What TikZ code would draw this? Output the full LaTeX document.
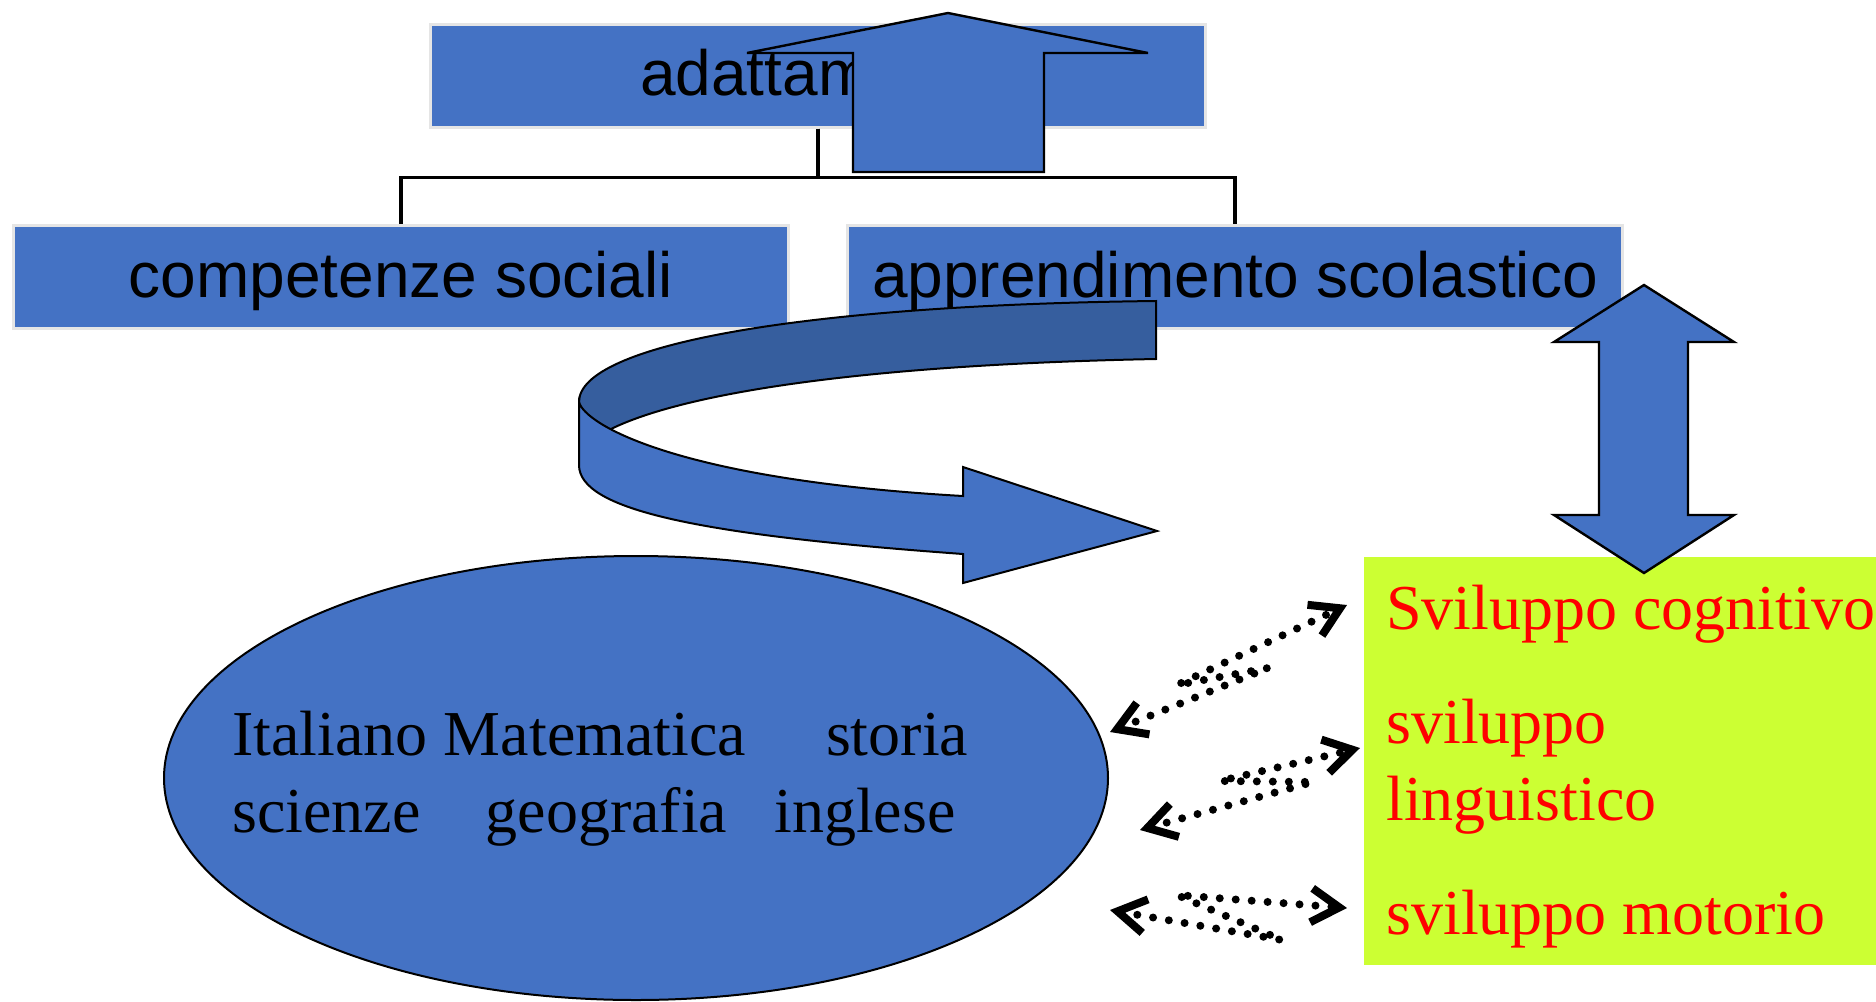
\documentclass[tikz,border=0pt]{standalone}
\usepackage{fontspec}
\setmainfont{Liberation Serif}
\newfontfamily\boxfont{Liberation Sans}
\usepackage{tikz-qtree}
\usetikzlibrary{shapes.geometric,arrows.meta}

\definecolor{slideblue}{RGB}{68,114,196}
\definecolor{slidedark}{RGB}{54,94,158}
\definecolor{slidegreen}{RGB}{204,255,51}

\tikzset{
  areabox/.style={fill=slideblue, draw=black!10, line width=1.5pt, anchor=north,
    minimum width=387.5pt, minimum height=51.5pt, inner sep=0pt,
    text height=24pt, text depth=4pt,
    font=\boxfont\fontsize{32}{38}\selectfont},
  blockarrow/.style={fill=slideblue, draw=black, line width=1.2pt, line join=miter},
  listtext/.style={align=left, inner sep=0pt, font=\fontsize{32}{38.5}\selectfont},
  dotlink/.style={line width=4pt, line cap=round, dash pattern=on 0pt off 8pt,
    >={Straight Barb[length=14pt,width=17pt,line width=4pt]}, <->},
}

\begin{document}
\begin{tikzpicture}[x=0.5pt, y=0.5pt]
\useasboundingbox (0,0) rectangle (1876,-1002);

% the three areas
\begin{scope}[xshift=409pt, yshift=-11.35pt,
  level distance=100.65pt, sibling distance=28pt,
  every tree node/.style={anchor=north},
  edge from parent/.style={draw, line width=1.6pt,
    edge from parent path={(\tikzparentnode.south) -- +(0,-24.5pt) -| (\tikzchildnode.north)}}]
\Tree [.\node[areabox] (adatt) {adattamento};
  \node[areabox] (comp) {competenze sociali};
  \node[areabox] (appr) {apprendimento scolastico};
]
\end{scope}

% arrow up to adattamento
\draw[blockarrow] (948,-13) -- (1148,-53) -- (1044,-53) -- (1044,-172)
  -- (853,-172) -- (853,-53) -- (747,-53) -- cycle;

% turning arrow, back side then front side
\draw[fill=slidedark, line width=1pt] (1156,-301) -- (1156,-359)
  .. controls (850,-365) and (680,-395) .. (611,-429)
  -- (579,-440) -- (579,-402)
  .. controls (579,-345) and (800,-305) .. (1156,-301) -- cycle;
\draw[fill=slideblue, line width=1pt] (579,-402)
  .. controls (585,-425) and (680,-480) .. (963,-496)
  -- (963,-467) -- (1157,-531) -- (963,-583) -- (963,-554)
  .. controls (700,-535) and (579,-510) .. (579,-465) -- cycle;

% subjects
\node[ellipse, fill=slideblue, draw=black, line width=1pt, inner sep=0pt,
  minimum width=472pt, minimum height=222pt] (subj) at (636,-778) {};
\node[listtext, anchor=north west] (subjlist) at (232,-711)
  {Italiano Matematica\hspace{32pt} storia\\
   scienze\hspace{24.5pt} geografia\hspace{15.5pt} inglese};

% development
\node[fill=slidegreen, inner sep=0pt, anchor=north west,
  minimum width=256pt, minimum height=204pt] (dev) at (1364,-557) {};
\node[listtext, text=red, anchor=north west] (devlist) at (1386,-585)
  {Sviluppo cognitivo\\[18.5pt]
   sviluppo\\
   linguistico\\[18.5pt]
   sviluppo motorio};

% double arrow
\draw[blockarrow] (1644,-285) -- (1734,-342) -- (1688,-342) -- (1688,-515)
  -- (1734,-515) -- (1644,-573) -- (1554,-515) -- (1599,-515)
  -- (1599,-342) -- (1554,-342) -- cycle;

% dotted links
\coordinate (cogA) at (1110,-732);
\coordinate (cogB) at (1268,-668);
\coordinate (cogC) at (1177,-685);
\coordinate (cogD) at (1347,-605);
\coordinate (lingA) at (1140,-830);
\coordinate (lingB) at (1313,-782);
\coordinate (lingC) at (1220,-781);
\coordinate (lingD) at (1360,-748);
\coordinate (motA) at (1110,-910);
\coordinate (motB) at (1282,-940);
\coordinate (motC) at (1177,-895);
\coordinate (motD) at (1347,-908);
\draw[dotlink] (cogA) -- (cogB) -- (cogC) -- (cogD);
\draw[dotlink] (lingA) -- (lingB) -- (lingC) -- (lingD);
\draw[dotlink] (motA) -- (motB) -- (motC) -- (motD);
\end{tikzpicture}
\end{document}
